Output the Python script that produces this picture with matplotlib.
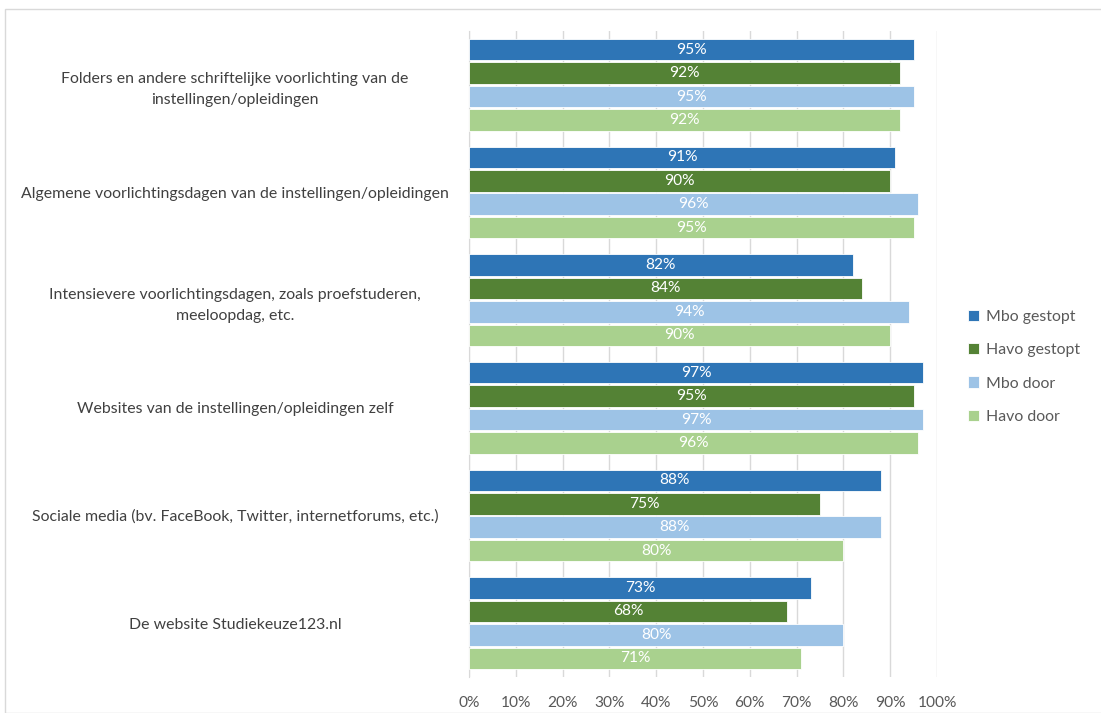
import numpy as np
import matplotlib.pyplot as plt
from matplotlib.patches import Rectangle

categories = [
    "Folders en andere schriftelijke voorlichting van de\ninstellingen/opleidingen",
    "Algemene voorlichtingsdagen van de instellingen/opleidingen",
    "Intensievere voorlichtingsdagen, zoals proefstuderen,\nmeeloopdag, etc.",
    "Websites van de instellingen/opleidingen zelf",
    "Sociale media (bv. FaceBook, Twitter, internetforums, etc.)",
    "De website Studiekeuze123.nl",
]
series_names = ["Mbo gestopt", "Havo gestopt", "Mbo door", "Havo door"]
mbo_gestopt = [95, 91, 82, 97, 88, 73]
havo_gestopt = [92, 90, 84, 95, 75, 68]
mbo_door = [95, 96, 94, 97, 88, 80]
havo_door = [92, 95, 90, 96, 80, 71]
colors = ["#2E75B6", "#548235", "#9DC3E6", "#A9D18E"]

plt.rcParams['font.family'] = ['Lato', 'DejaVu Sans']

fig = plt.figure(figsize=(11.01, 7.13), dpi=100)
ax = fig.add_axes([469 / 1101, 1 - 677 / 713, (937 - 469) / 1101, (677 - 31) / 713])

# outer chart border
fig.patches.append(Rectangle((5 / 1101, 0.0), 1.2, 1 - 9 / 713, transform=fig.transFigure,
                             fill=False, edgecolor="#D9D9D9", linewidth=1))

y = np.arange(len(categories))
bar_h = 0.2
step = 0.218
all_series = [mbo_gestopt, havo_gestopt, mbo_door, havo_door]
for i, (vals, name, col) in enumerate(zip(all_series, series_names, colors)):
    pos = y + (i - 1.5) * step
    bars = ax.barh(pos, vals, height=bar_h, color=col, edgecolor="white", linewidth=0.6,
                   label=name, zorder=3)
    for b, v in zip(bars, vals):
        ax.text(b.get_width() / 2, b.get_y() + b.get_height() / 2, f"{v}%",
                ha="center", va="center", color="white", fontsize=11.2, zorder=4)

ax.set_xlim(0, 100)
ax.set_ylim(len(categories) - 0.5, -0.5)
ax.set_xticks(np.arange(0, 101, 10))
ax.set_xticklabels([f"{t}%" for t in range(0, 101, 10)], color="#595959", fontsize=11.2)
ax.set_yticks(y)
ax.set_yticklabels(categories, color="#404040", fontsize=11.4, ha="center",
                   multialignment="center", linespacing=1.65)
ax.tick_params(axis="y", length=0, pad=0)
ax.tick_params(axis="x", length=0, pad=14)
# centre the category labels in the space left of the axis
for lab in ax.get_yticklabels():
    lab.set_x(-0.5)

ax.grid(axis="x", color="#D9D9D9", linewidth=1, zorder=0)
for s in ["top", "right", "bottom"]:
    ax.spines[s].set_visible(False)
ax.spines["left"].set_color("#D9D9D9")

leg = fig.legend(loc="center left", bbox_to_anchor=(954 / 1101, 1 - 367 / 713), frameon=False,
                 fontsize=11.4, handlelength=0.7, handleheight=0.7, labelspacing=1.2,
                 handletextpad=0.4)
for t in leg.get_texts():
    t.set_color("#595959")

fig.savefig("out.png", dpi=100)
